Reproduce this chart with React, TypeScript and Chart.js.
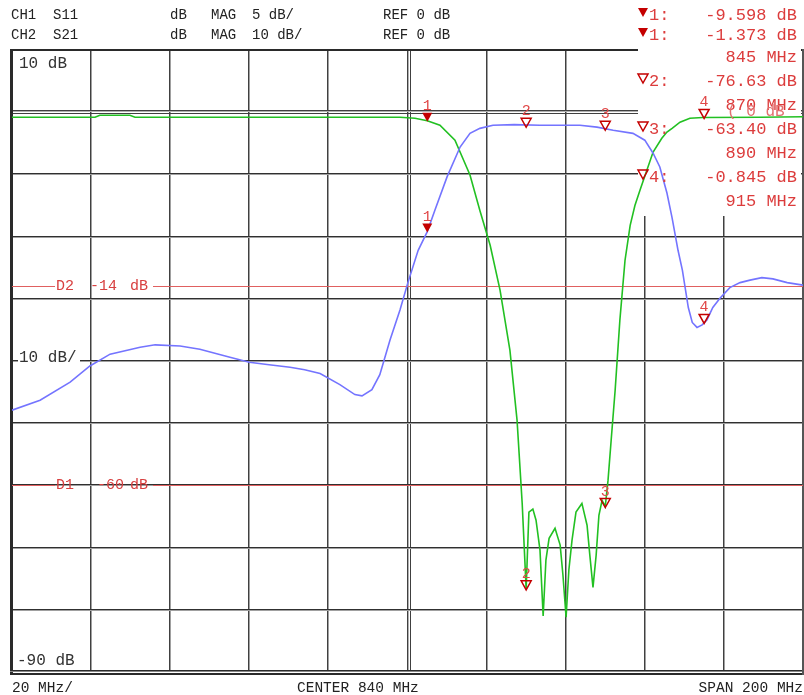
import { useEffect, useRef } from 'react';
import { Chart, registerables } from 'chart.js';

Chart.register(...registerables);

// ---- Data ----
const xTicks = [740, 760, 780, 800, 820, 840, 860, 880, 900, 920, 940];
const s11Ticks = [5, 0, -5, -10, -15, -20, -25, -30, -35, -40, -45];

const s11Freq = [740, 747.1, 754.7, 759.7, 764.8, 772.4, 776.2, 782.5, 787.5, 795.1, 800.0, 805.0, 810.3, 814.0, 817.9, 822.9, 826.7, 828.5, 831.0, 833.0, 835.6, 838.1, 840.1, 842.7, 845.0, 846.9, 850.0, 853.3, 855.8, 858.3, 861.6, 867.0, 873.5, 879.0, 883.6, 887.9, 892.0, 897.0, 900.0, 902.1, 903.8, 905.6, 906.9, 908.4, 909.5, 910.2, 911.0, 912.0, 913.2, 914.5, 915.7, 917.2, 919.0, 921.5, 924.1, 926.6, 929.6, 932.4, 936.0, 940];
const s11Db = [-23.95, -23.15, -21.7, -20.4, -19.45, -18.9, -18.7, -18.8, -19.05, -19.7, -20.1, -20.3, -20.5, -20.7, -21.0, -21.9, -22.7, -22.8, -22.3, -21.1, -18.3, -15.9, -13.7, -11.1, -9.598, -7.9, -5.2, -2.8, -1.7, -1.3, -1.05, -1.0, -1.05, -1.05, -1.05, -1.2, -1.45, -1.7, -2.25, -3.3, -4.4, -6.5, -8.5, -11.1, -12.7, -14.1, -15.7, -16.9, -17.3, -17.1, -16.7, -15.7, -14.95, -14.1, -13.7, -13.5, -13.3, -13.4, -13.7, -13.9];

const s21Freq = [740, 761.0, 762.2, 769.8, 771.1, 800.0, 838.1, 841.9, 845.0, 848.2, 852.0, 855.8, 858.3, 860.9, 863.4, 865.9, 867.7, 869.0, 869.7, 870.0, 870.7, 871.7, 872.5, 873.5, 874.3, 875.0, 875.8, 877.3, 878.6, 879.3, 880.1, 880.8, 881.6, 882.6, 884.1, 885.4, 886.1, 886.9, 887.7, 888.4, 889.2, 890.0, 890.7, 891.5, 892.5, 893.7, 895.0, 896.3, 897.5, 898.8, 902.1, 904.3, 905.6, 906.9, 908.9, 911.4, 914.7, 929.1, 940];
const s21Db = [-0.8, -0.8, -0.48, -0.48, -0.8, -0.8, -0.8, -0.96, -1.373, -2.1, -4.5, -10.1, -15.8, -21.4, -28.6, -38.3, -49.5, -62.9, -72.5, -76.63, -64.3, -63.8, -65.6, -70.4, -81.0, -72.0, -68.5, -66.9, -69.6, -74.4, -81.2, -73.6, -68.8, -64.3, -62.9, -66.4, -71.2, -76.4, -71.2, -64.8, -62.4, -63.4, -59.2, -52.7, -44.7, -33.4, -23.8, -18.2, -15.0, -12.5, -6.4, -4.2, -3.2, -2.6, -1.6, -0.96, -0.845, -0.8, -0.72];

const markerFreqs = [845, 870, 890, 915];
const markerS11 = [-9.598, -1.13, -1.37, -16.9];
const markerS21 = [-1.373, -76.63, -63.4, -0.845];
const markerS21Text = ['-1.373 dB', '-76.63 dB', '-63.40 dB', '-0.845 dB'];
const markerS11Text = ['-9.598 dB'];

const limitD2 = -14; // CH1 scale
const limitD1 = -60; // CH2 scale

const headerRows = [
  ['CH1', 'S11', 'dB', 'MAG', '5 dB/', 'REF 0 dB'],
  ['CH2', 'S21', 'dB', 'MAG', '10 dB/', 'REF 0 dB'],
];
const footerTexts = ['20 MHz/', 'CENTER 840 MHz', 'SPAN 200 MHz'];

const MONO = '"Liberation Mono", "DejaVu Sans Mono", monospace';
const RED = '#dc3c3c';
const MARK = '#c40000';

function tri(ctx: CanvasRenderingContext2D, cx: number, tipY: number, filled: boolean) {
  ctx.beginPath();
  ctx.moveTo(cx - 5, tipY - 9);
  ctx.lineTo(cx + 5, tipY - 9);
  ctx.lineTo(cx, tipY);
  ctx.closePath();
  if (filled) {
    ctx.fillStyle = MARK;
    ctx.fill();
  } else {
    ctx.strokeStyle = MARK;
    ctx.lineWidth = 1.5;
    ctx.stroke();
  }
}

const vnaPlugin = {
  id: 'vna',
  beforeDatasetsDraw(chart: any) {
    const { ctx, chartArea: a, scales } = chart;
    const xs = scales.x, y1 = scales.y1, y2 = scales.y2;
    ctx.save();
    const W = a.right - a.left;
    const H = a.bottom - a.top;
    // vertical grid
    xTicks.forEach((f, i) => {
      if (i === 0 || i === xTicks.length - 1) return;
      const px = Math.round(xs.getPixelForValue(f));
      if (f === 840) {
        ctx.fillStyle = '#404040';
        ctx.fillRect(px - 1, a.top, 1, H);
        ctx.fillRect(px + 2, a.top, 1, H);
        ctx.fillStyle = '#b0b0b0';
        ctx.fillRect(px, a.top, 1, H);
      } else {
        ctx.fillStyle = '#404040';
        ctx.fillRect(px - 1, a.top, 1, H);
        ctx.fillStyle = '#a0a0a0';
        ctx.fillRect(px, a.top, 1, H);
      }
    });
    // horizontal grid
    s11Ticks.forEach((v, i) => {
      if (i === 0 || i === s11Ticks.length - 1) return;
      const py = Math.round(y1.getPixelForValue(v));
      if (v === 0) {
        ctx.fillStyle = '#404040';
        ctx.fillRect(a.left, py - 2, W, 1);
        ctx.fillRect(a.left, py + 1, W, 1);
        ctx.fillStyle = '#b0b0b0';
        ctx.fillRect(a.left, py - 1, W, 1);
      } else {
        ctx.fillStyle = '#303030';
        ctx.fillRect(a.left, py - 1, W, 1);
        ctx.fillStyle = '#a0a0a0';
        ctx.fillRect(a.left, py, W, 1);
      }
    });
    // borders
    ctx.fillStyle = '#2a2a2a';
    ctx.fillRect(a.left - 2, a.top - 1, W + 3, 2);
    ctx.fillRect(a.left - 2, a.top - 1, 3, H + 4);
    ctx.fillRect(a.left - 2, a.bottom - 2, W + 3, 1);
    ctx.fillRect(a.left - 2, a.bottom + 1, W + 3, 2);
    ctx.fillStyle = '#888888';
    ctx.fillRect(a.left - 2, a.bottom - 1, W + 3, 1);

    // white readout box
    ctx.fillStyle = '#ffffff';
    ctx.fillRect(638, 0, 163, 216);

    ctx.fillStyle = '#555555';
    ctx.fillRect(a.right - 1, a.top - 1, 2, H + 4);

    // "10 dB/" label with background
    ctx.fillStyle = '#ffffff';
    ctx.fillRect(18, 350, 62, 18);
    ctx.font = `16px ${MONO}`;
    ctx.textBaseline = 'middle';
    ctx.textAlign = 'left';
    ctx.fillStyle = '#333333';
    ctx.fillText('10 dB/', 19, 358);
    ctx.fillText('10 dB', 19, 64);
    ctx.fillText('-90 dB', 17, 661);

    // limit lines
    const drawLimit = (py: number, name: string, val: number, valX: number) => {
      ctx.strokeStyle = '#e06060';
      ctx.lineWidth = 1;
      const yy = Math.round(py) + 0.5;
      ctx.beginPath();
      ctx.moveTo(a.left, yy);
      ctx.lineTo(55, yy);
      ctx.moveTo(153, yy);
      ctx.lineTo(a.right, yy);
      ctx.stroke();
      ctx.font = `15px ${MONO}`;
      ctx.fillStyle = '#d84040';
      ctx.textBaseline = 'middle';
      ctx.fillText(name, 56, yy);
      ctx.fillText(String(val), valX, yy);
      ctx.fillText('dB', 130, yy);
    };
    drawLimit(y1.getPixelForValue(limitD2), 'D2', limitD2, 90);
    drawLimit(y2.getPixelForValue(limitD1), 'D1', limitD1, 97);
    ctx.restore();
  },
  afterDatasetsDraw(chart: any) {
    const { ctx, scales } = chart;
    const xs = scales.x, y1 = scales.y1, y2 = scales.y2;
    ctx.save();
    // markers on traces
    ctx.font = `15px ${MONO}`;
    ctx.textAlign = 'center';
    ctx.textBaseline = 'middle';
    markerFreqs.forEach((f, i) => {
      const px = xs.getPixelForValue(f);
      const pa = y1.getPixelForValue(markerS11[i]) + 1;
      const pb = y2.getPixelForValue(markerS21[i]) + 1;
      tri(ctx, px, pa, i === 0);
      tri(ctx, px, pb, i === 0);
      ctx.fillStyle = '#e04848';
      ctx.fillText(String(i + 1), px, pa - 16);
      ctx.fillText(String(i + 1), px, pb - 16);
    });

    // readout list
    ctx.font = `17px ${MONO}`;
    ctx.textBaseline = 'middle';
    const rowsY = [15, 35, 57, 81, 105, 129, 153, 177, 201];
    const lines: { sym?: boolean; lbl?: string; val: string }[] = [
      { sym: true, lbl: '1:', val: markerS11Text[0] },
      { sym: true, lbl: '1:', val: markerS21Text[0] },
      { val: `${markerFreqs[0]} MHz` },
      { sym: false, lbl: '2:', val: markerS21Text[1] },
      { val: `${markerFreqs[1]} MHz` },
      { sym: false, lbl: '3:', val: markerS21Text[2] },
      { val: `${markerFreqs[2]} MHz` },
      { sym: false, lbl: '4:', val: markerS21Text[3] },
      { val: `${markerFreqs[3]} MHz` },
    ];
    lines.forEach((ln, i) => {
      const yy = rowsY[i];
      if (ln.lbl) {
        tri(ctx, 643, yy + 2, !!ln.sym);
        ctx.fillStyle = RED;
        ctx.textAlign = 'left';
        ctx.fillText(ln.lbl, 649, yy);
      }
      ctx.fillStyle = RED;
      ctx.textAlign = 'right';
      ctx.fillText(ln.val, 797, yy);
    });
    ctx.font = `16px ${MONO}`;
    ctx.fillStyle = '#e37070';
    ctx.textAlign = 'left';
    ctx.fillText('( 0 dB', 727, 112);

    // header
    ctx.font = `14px ${MONO}`;
    ctx.fillStyle = '#222222';
    ctx.textAlign = 'left';
    const hx = [11, 53, 170, 211, 252, 383];
    headerRows.forEach((row, r) => {
      row.forEach((t, k) => ctx.fillText(t, hx[k], r === 0 ? 15 : 35));
    });
    // footer
    ctx.font = `14.5px ${MONO}`;
    ctx.fillText(footerTexts[0], 12, 688);
    ctx.fillText(footerTexts[1], 297, 688);
    ctx.textAlign = 'right';
    ctx.fillText(footerTexts[2], 803, 688);
    ctx.restore();
  },
};

export default function App() {
  const ref = useRef<HTMLCanvasElement>(null);
  useEffect(() => {
    const chart = new Chart(ref.current!, {
      type: 'line',
      data: {
        datasets: [
          {
            label: 'S11',
            data: s11Freq.map((f, i) => ({ x: f, y: s11Db[i] })),
            yAxisID: 'y1',
            borderColor: '#7474ff',
            borderWidth: 1.6,
            pointRadius: 0,
            tension: 0,
          },
          {
            label: 'S21',
            data: s21Freq.map((f, i) => ({ x: f, y: s21Db[i] })),
            yAxisID: 'y2',
            borderColor: '#22c022',
            borderWidth: 1.6,
            pointRadius: 0,
            tension: 0,
          },
        ],
      },
      options: {
        responsive: false,
        animation: false,
        devicePixelRatio: 1,
        layout: { padding: { left: 12, right: 1, top: 50, bottom: 23 } },
        plugins: { legend: { display: false }, tooltip: { enabled: false } },
        scales: {
          x: { type: 'linear', min: 740, max: 940, display: false },
          y1: { type: 'linear', min: -45, max: 5, display: false },
          y2: { type: 'linear', min: -90, max: 10, display: false },
        },
      },
      plugins: [vnaPlugin],
    });
    return () => chart.destroy();
  }, []);
  return (
    <div style={{ position: 'absolute', left: 0, top: 0, width: 804, height: 695, background: '#fff' }}>
      <canvas ref={ref} width={804} height={695} style={{ display: 'block' }} />
    </div>
  );
}
